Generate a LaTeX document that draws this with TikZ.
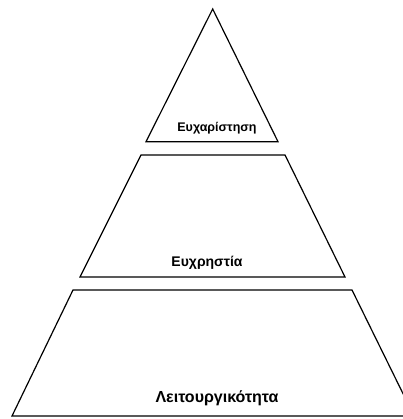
\documentclass[tikz,border=0pt]{standalone}
\usepackage{fontspec}
\setmainfont{Liberation Sans}
\begin{document}
\begin{tikzpicture}[x=1pt,y=-1pt,
  tier/.style={draw=black,line width=1.2pt,line join=miter},
  tierlabel/.style={text=black,inner sep=0pt}]
\useasboundingbox (0,0) rectangle (402,419);
% top tier
\draw[tier] (212.7,9) -- (278,141.7) -- (146,141.7) -- cycle;
% middle tier
\draw[tier] (141,155) -- (285,155) -- (345,277) -- (80,277) -- cycle;
% bottom tier
\draw[tier] (73,290) -- (352,290) -- (414,416) -- (12,416) -- cycle;
\node[tierlabel,font=\bfseries\fontsize{12.5}{14}\selectfont] (pleasure) at (217,128) {Ευχαρίστηση};
\node[tierlabel,font=\bfseries\fontsize{14}{16}\selectfont] (usability) at (207,263) {Ευχρηστία};
\node[tierlabel,font=\bfseries\fontsize{16}{18}\selectfont] (function) at (217,398) {Λειτουργικότητα};
\end{tikzpicture}
\end{document}
